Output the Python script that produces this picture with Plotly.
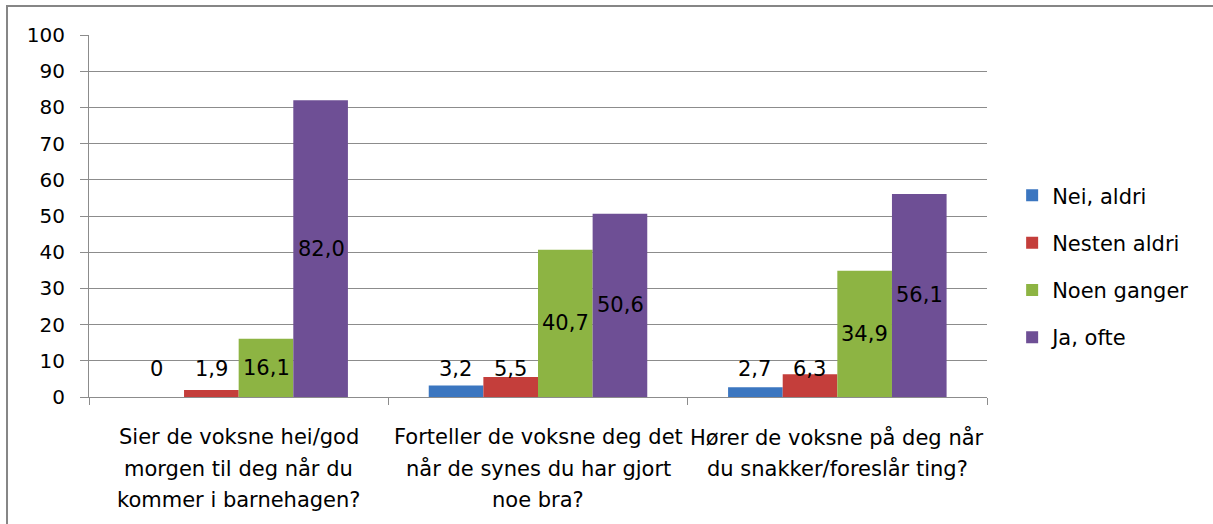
import plotly.graph_objects as go

# survey questions (one list of lines per category)
category_lines = [
    ["Sier de voksne hei/god", "morgen til deg når du", "kommer i barnehagen?"],
    ["Forteller de voksne deg det", "når de synes du har gjort", "noe bra?"],
    ["Hører de voksne på deg når", "du snakker/foreslår ting?"],
]
categories = [" ".join(lines) for lines in category_lines]

series_names = ["Nei, aldri", "Nesten aldri", "Noen ganger", "Ja, ofte"]
nei_aldri = [0, 3.2, 2.7]
nesten_aldri = [1.9, 5.5, 6.3]
noen_ganger = [16.1, 40.7, 34.9]
ja_ofte = [82.0, 50.6, 56.1]
series_values = [nei_aldri, nesten_aldri, noen_ganger, ja_ofte]

y_ticks = list(range(0, 101, 10))

colors = ["#3b76c0", "#c43e3b", "#8db443", "#6e4f95"]
font_family = "DejaVu Sans, Calibri, sans-serif"
grid_color = "#8c8c8c"
font_size = 21


def fmt(v):
    # Norwegian decimal comma, plain 0 for zero
    if v == 0:
        return "0"
    return f"{v:.1f}".replace(".", ",")


fig = go.Figure()
for name, values, color in zip(series_names, series_values, colors):
    fig.add_trace(
        go.Bar(
            x=categories,
            y=values,
            name=name,
            legendgroup=name,
            marker={"color": color, "line": {"width": 0}},
        )
    )

annotations = []
bar_px = 55
for i, values in enumerate(series_values):
    shift = (i - 1.5) * bar_px
    for cat, v in zip(categories, values):
        annotations.append(
            dict(
                x=cat, y=max(v / 2, 7.7), xref="x", yref="y",
                text=fmt(v), showarrow=False, xshift=shift,
                font={"size": font_size, "color": "#000000", "family": font_family},
            )
        )

# category labels, one annotation per line for Excel-like spacing
for cat, lines in zip(categories, category_lines):
    for j, line in enumerate(lines):
        annotations.append(
            dict(
                x=cat, y=0, xref="x", yref="paper", yanchor="middle",
                yshift=-40 - 31.5 * j, text=line, showarrow=False,
                font={"size": font_size, "color": "#000000", "family": font_family},
            )
        )

fig.update_layout(
    width=1213,
    height=524,
    margin={"l": 89, "r": 226, "t": 35, "b": 127},
    plot_bgcolor="#ffffff",
    paper_bgcolor="#ffffff",
    barmode="group",
    bargap=0.27,
    bargroupgap=0,
    font={"family": font_family, "size": font_size, "color": "#000000"},
    showlegend=True,
    legend={
        "x": 1.028, "y": 0.36, "xanchor": "left", "yanchor": "middle",
        "traceorder": "grouped", "tracegroupgap": 17,
        "font": {"size": font_size, "family": font_family},
        "bgcolor": "rgba(0,0,0,0)",
    },
    annotations=annotations,
    shapes=[
        dict(
            type="rect", xref="paper", yref="paper",
            x0=-0.0913, x1=1.5, y0=-0.6, y1=1.08,
            line={"color": "#868686", "width": 2}, layer="below",
        )
    ],
)
fig.update_xaxes(
    type="category",
    showticklabels=False,
    showgrid=False,
    showline=True,
    linecolor=grid_color,
    linewidth=1,
    ticks="outside",
    tickson="boundaries",
    ticklen=7,
    tickcolor=grid_color,
)
fig.update_yaxes(
    range=[0, 100],
    tickvals=y_ticks,
    showgrid=True,
    gridcolor=grid_color,
    gridwidth=1,
    showline=True,
    linecolor=grid_color,
    linewidth=1,
    ticks="outside",
    ticklen=8,
    tickcolor=grid_color,
    ticklabelstandoff=11,
    zeroline=False,
    tickfont={"size": 20, "family": font_family},
)

# drop the default 8px body margin so the chart sits at the window corner
fig.write_html(
    "out.html",
    config={"displayModeBar": False},
    post_script="document.body.style.margin = '0';",
)
